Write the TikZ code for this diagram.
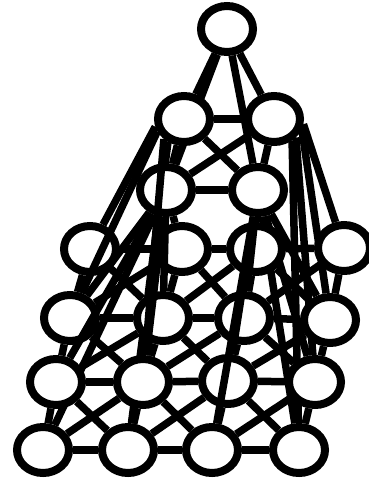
\documentclass[tikz,border=0pt]{standalone}
\usetikzlibrary{shapes.geometric}
\pgfdeclarelayer{bg}
\pgfdeclarelayer{fg}
\pgfsetlayers{bg,main,fg}
\begin{document}
\begin{tikzpicture}[x=1pt,y=-1pt,
  vtx/.style={ellipse,draw=black,fill=white,line width=8pt,minimum width=52pt,minimum height=46pt,inner sep=0pt},
  edg/.style={draw=black,line width=7.5pt}]
\useasboundingbox (0,0) rectangle (369,482);
\node[vtx] (T) at (227,29) {};
\node[vtx] (A1) at (184,119) {};
\node[vtx] (A2) at (274,119) {};
\node[vtx] (B1) at (166,190) {};
\node[vtx] (B2) at (258,190) {};
\node[vtx] (C1) at (90,249) {};
\node[vtx] (C2) at (182,249) {};
\node[vtx] (C3) at (256,249) {};
\node[vtx] (C4) at (344,248) {};
\node[vtx] (D1) at (70,318) {};
\node[vtx] (D2) at (163,318) {};
\node[vtx] (D3) at (244,318) {};
\node[vtx] (D4) at (330,320) {};
\node[vtx] (E1) at (56,382) {};
\node[vtx] (E2) at (143,382) {};
\node[vtx] (E3) at (228,381) {};
\node[vtx] (E4) at (315,382) {};
\node[vtx] (F1) at (43,450) {};
\node[vtx] (F2) at (128,450) {};
\node[vtx] (F3) at (212,450) {};
\node[vtx] (F4) at (299,450) {};
\begin{pgfonlayer}{bg}
\foreach \a/\b in {T/A1,T/A2,T/B1,T/B2,A1/A2,A1/B1,A1/B2,A2/B1,A2/B2,B1/B2,
  C1/C2,C2/C3,C3/C4,D1/D2,D2/D3,D3/D4,E1/E2,E2/E3,E3/E4,F1/F2,F2/F3,F3/F4,
  B1/C2,B2/C3,
  C1/D1,C1/D2,C2/D1,C2/D2,C2/D3,C3/D2,C3/D3,C3/D4,C4/D3,C4/D4,
  D1/E1,D1/E2,D2/E1,D2/E2,D2/E3,D3/E2,D3/E3,D3/E4,D4/E3,D4/E4,
  E1/F1,E1/F2,E2/F1,E2/F2,E2/F3,E3/F2,E3/F3,E3/F4,E4/F3,E4/F4,
  B1/D1,B1/F1,B1/F2,B2/D4,B2/E4,B2/F4}
  \draw[edg] (\a) -- (\b);
\draw[edg] (A1.195) -- (C1);
\draw[edg] (A1.235) -- (F2);
\draw[edg] (A2.-10) -- (C4);
\draw[edg] (A2.-20) -- (D4);
\draw[edg] (A2.-40) -- (E4);
\draw[edg] (A2.-50) -- (F4);
\end{pgfonlayer}
\begin{pgfonlayer}{fg}
\draw[edg] (A1.205) -- (D1);
\draw[edg] (A1.225) -- (E2);
\foreach \a/\b in {B1/D2,B1/E1,B1/E2,B2/D3,B2/E3,B2/F3}
  \draw[edg] (\a) -- (\b);
\end{pgfonlayer}
\end{tikzpicture}
\end{document}
